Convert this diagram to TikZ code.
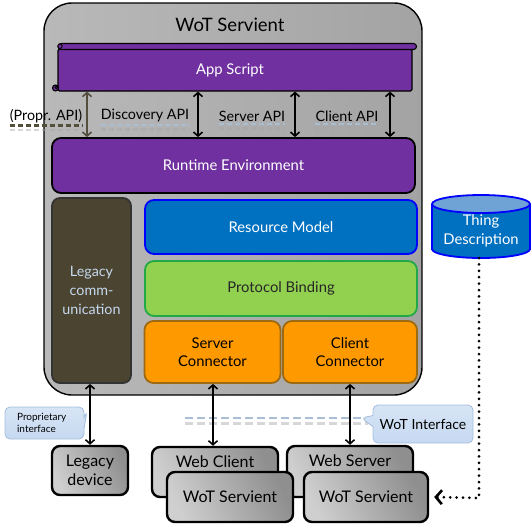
\documentclass[tikz,border=0pt]{standalone}
\usepackage{fontspec}
\setmainfont{Lato}
\usetikzlibrary{arrows.meta,shapes.callouts}

\definecolor{wotpurple}{HTML}{7030A0}
\definecolor{legacyfill}{HTML}{4A4430}
\definecolor{legacytext}{HTML}{C6D9F1}
\definecolor{resblue}{HTML}{0070C0}
\definecolor{resborder}{HTML}{0000FF}
\definecolor{tdtop}{HTML}{6FA3D6}
\definecolor{protgreen}{HTML}{92D050}
\definecolor{protborder}{HTML}{22A846}
\definecolor{connorange}{HTML}{FF9900}
\definecolor{connborder}{HTML}{9C6A12}
\definecolor{calloutfill}{HTML}{C6D9F1}
\definecolor{calloutborder}{HTML}{A3BEDC}
\definecolor{proprcol}{HTML}{544E3C}
\definecolor{apiline}{HTML}{A9BED3}

\tikzset{
  layer/.style={draw, rounded corners=9, line width=1.8pt, align=center,
    font=\fontsize{14.8}{17}\selectfont, inner sep=0pt},
  purplebox/.style={layer, fill=wotpurple, text=white},
  legacybox/.style={layer, fill=legacyfill, draw=black!80, text=legacytext,
    font=\fontsize{14.3}{19}\selectfont},
  resbox/.style={layer, fill=resblue, draw=resborder, text=white},
  protbox/.style={layer, fill=protgreen, draw=protborder, text=black!85},
  connbox/.style={layer, fill=connorange, draw=connborder, text=black,
    font=\fontsize{14.8}{18.5}\selectfont},
  lowbox/.style={draw, line width=2.4pt, rounded corners=8, inner sep=0pt,
    left color=gray!38, right color=gray!88, shading angle=115, align=center,
    font=\fontsize{16}{19.5}\selectfont},
  apilabel/.style={font=\fontsize{14.3}{16}\selectfont, inner sep=0pt},
  apiarrow/.style={{Straight Barb[length=4pt,width=9pt,line width=1.6pt]}-{Straight Barb[length=4pt,width=9pt,line width=1.6pt]},
    line width=1.6pt},
  apidash/.style={line width=2.2pt, dash pattern=on 5pt off 3pt},
  apishadow/.style={line width=2.6pt, dash pattern=on 5pt off 3pt, black!35, opacity=0.45},
  callbox/.style={rectangle callout, rounded corners=5, draw=calloutborder, line width=0.8pt,
    top color=calloutfill!70!white, bottom color=calloutfill, align=left, inner sep=0pt,
    callout pointer width=11pt},
}

\begin{document}
\begin{tikzpicture}[x=1pt,y=-1pt]
\useasboundingbox (0,0) rectangle (532,531);

% ---- the servient frame ----
\node[draw, line width=1.4pt, rounded corners=28, minimum width=378pt, minimum height=392pt,
  left color=gray!55, right color=gray!72] (frame) at (233,199) {};
\node[font=\fontsize{18.5}{21}\selectfont] (title) at (230,25) {WoT Servient};

% ---- application script (scroll) ----
\node[draw, line width=1.2pt, fill=wotpurple, minimum width=354pt, minimum height=42pt,
  inner sep=0pt, rounded corners=1.5] (app) at (235,70) {};
\node[text=white, font=\fontsize{14.8}{17}\selectfont, inner sep=0pt] (appt) at (230,70) {App Script};
\filldraw[fill=wotpurple, line width=1.1pt, rounded corners=3] (58,43.5) rectangle (416.5,49.5);
\filldraw[fill=wotpurple, line width=0.9pt] (60,46.2) circle[radius=2.2pt];
\filldraw[fill=wotpurple, line width=1.1pt] (55.5,88) circle[radius=3pt];
\filldraw[fill=wotpurple, line width=0.8pt] (56.2,87.5) circle[radius=1.3pt];

% ---- runtime and stack ----
\node[purplebox, minimum width=363pt, minimum height=55pt] (rt) at (233.5,165.5) {Runtime Environment};
\node[legacybox, minimum width=79pt, minimum height=185pt, rounded corners=8] (lc) at (91.5,290.5) {Legacy\\comm-\\unication};
\node[resbox, minimum width=272pt, minimum height=54pt] (rm) at (281,227) {Resource Model};
\node[protbox, minimum width=272pt, minimum height=55pt] (pb) at (281,288.5) {Protocol Binding};
\node[connbox, minimum width=136pt, minimum height=62pt] (sc) at (212.5,352) {Server\\Connector};
\node[connbox, minimum width=134pt, minimum height=62pt] (cc) at (350,352) {Client\\Connector};

% ---- API labels with their dashed underlines ----
\node[apilabel] (lp) at (46,116) {(Propr. API)};
\node[apilabel] (ld) at (145,116) {Discovery API};
\node[apilabel] (ls) at (252,116) {Server API};
\node[apilabel] (lcl) at (347,116) {Client API};
\foreach \n in {lp,ld,ls,lcl}{
  \draw[apishadow] ([yshift=-7pt]\n.south west) -- ([yshift=-7pt]\n.south east);
}
\draw[apidash, proprcol] ([yshift=-2.5pt]lp.south west) -- ([yshift=-2.5pt]lp.south east);
\foreach \n in {ld,ls,lcl}{
  \draw[apidash, apiline] ([yshift=-2.5pt]\n.south west) -- ([yshift=-2.5pt]\n.south east);
}

% ---- API arrows ----
\coordinate (xp) at (87,0);
\coordinate (xd) at (198,0);
\coordinate (xs) at (295,0);
\coordinate (xc) at (390,0);
\draw[apiarrow, proprcol] (app.south -| xp) -- (rt.north -| xp);
\foreach \c in {xd,xs,xc}{
  \draw[apiarrow] (app.south -| \c) -- (rt.north -| \c);
}

% ---- thing description store ----
\begin{scope}[line width=1.8pt]
  \fill[resblue] (432,204) rectangle (530,249);
  \fill[resblue] (481,249) ellipse[x radius=49pt, y radius=9pt];
  \begin{scope}
    \clip (420,249) rectangle (532,262);
    \draw[resborder] (481,249) ellipse[x radius=49pt, y radius=9pt];
  \end{scope}
  \draw[resborder] (432,204) -- (432,249.5) (530,204) -- (530,249.5);
  \filldraw[fill=tdtop, draw=resborder] (481,204) ellipse[x radius=49pt, y radius=9pt];
\end{scope}
\node[align=center, text=white, font=\fontsize{14.8}{19}\selectfont] (td) at (481,231) {Thing\\Description};
\coordinate (tdb) at (479,258);

% ---- WoT interface marker ----
\coordinate (wl) at (185,418);
\coordinate (wr) at (368,418);
\draw[apishadow, line width=3pt, dash pattern=on 8pt off 4pt] ([yshift=-5pt]wl) -- ([yshift=-5pt]wr);
\draw[apiline, line width=2.6pt, dash pattern=on 8pt off 4pt] (wl) -- (wr);

% ---- callouts ----
\node[callbox, minimum width=79pt, minimum height=32pt, font=\fontsize{10}{12.5}\selectfont,
  callout absolute pointer={(87,411)}] (pi) at (44.5,423) {Proprietary\\interface\hspace*{16pt}};
\node[callbox, minimum width=100pt, minimum height=38pt, font=\fontsize{14}{16}\selectfont,
  callout absolute pointer={(361,418)}] (wi) at (423,424) {WoT Interface};

% ---- devices below ----
\node[lowbox, minimum width=76pt, minimum height=49pt] (dev) at (90,470.5) {Legacy\\device};
\node[lowbox, minimum width=126pt, minimum height=50pt,
  label={[anchor=north, font=\fontsize{16}{19}\selectfont, yshift=-6pt]north:Web Client}] (wc) at (215,472) {};
\node[lowbox, minimum width=126pt, minimum height=51pt,
  label={[anchor=north, font=\fontsize{16}{19}\selectfont, yshift=-6pt]north:Web Server}] (ws) at (350,471.5) {};
\node[lowbox, minimum width=126pt, minimum height=50pt] (s1) at (230,497) {WoT Servient};
\node[lowbox, minimum width=124pt, minimum height=50pt] (s2) at (366,497) {WoT Servient};

% ---- interface arrows ----
\coordinate (xl) at (90,0);
\coordinate (xsc) at (213,0);
\coordinate (xcc) at (350,0);
\draw[apiarrow] (lc.south -| xl) -- (dev.north -| xl);
\draw[apiarrow] (sc.south -| xsc) -- (wc.north -| xsc);
\draw[apiarrow] (cc.south -| xcc) -- (ws.north -| xcc);

% ---- description link ----
\coordinate (tdc) at (479,498);
\draw[line width=3pt, line cap=round, dash pattern=on 0pt off 6.4pt,
  -{Straight Barb[length=6pt,width=14pt,line width=2.6pt]}]
  (tdb) -- (tdc) -- ([xshift=5pt]s2.east);
\end{tikzpicture}
\end{document}
